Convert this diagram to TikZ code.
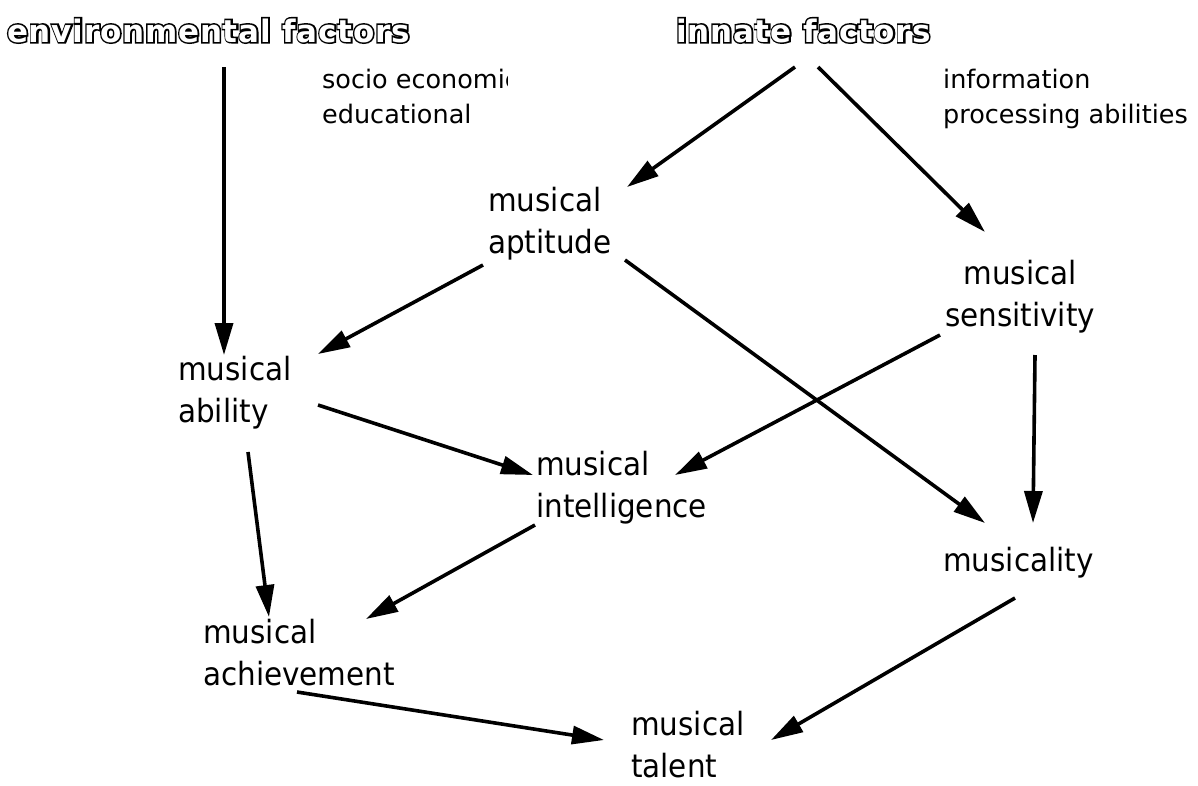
\documentclass[tikz,border=0pt]{standalone}
\usepackage{fontspec}
\setmainfont{DejaVu Sans}[FakeStretch=0.92]
\newfontfamily\smallfont{DejaVu Sans}
\newfontfamily\outerfont{DejaVu Sans Bold}[FakeBold=10,LetterSpace=2.5]
\newfontfamily\innerfont{DejaVu Sans Bold}[LetterSpace=2.5]
\usetikzlibrary{arrows.meta,calc}
\newcommand{\outlined}[1]{\leavevmode\rlap{\outerfont #1}{\innerfont\color{white}#1}}
\begin{document}
\begin{tikzpicture}[x=1pt,y=-1pt,
  lbl/.style={anchor=base west, inner sep=0pt, align=left, font=\fontsize{32}{42}\selectfont},
  lblc/.style={anchor=base, inner sep=0pt, align=center, font=\fontsize{32}{42}\selectfont},
  note/.style={anchor=base west, inner sep=0pt, align=left, font=\smallfont\fontsize{25.5}{35}\selectfont},
  title/.style={anchor=base west, inner sep=0pt, font=\fontsize{31}{31}\selectfont},
  arr/.style={line width=3.6pt, -{Triangle[length=32pt,width=18pt]}, shorten >=0pt}]
\useasboundingbox (0,0) rectangle (1198,785);
% titles
\node[title] (env) at (7,42) {\outlined{environmental factors}};
\node[title] (inn) at (676,42) {\outlined{innate factors}};
% notes (last-line baselines)
\begin{scope}
\clip (300,55) rectangle (507,135);
\node[note] (soc) at (322,123) {socio economic\\educational};
\end{scope}
\node[note] (inf) at (943,123) {information\\processing abilities};
% concept nodes (anchored at the baseline of the last line)
\node[lbl] (apt) at (488,253) {musical\\aptitude};
\node[lblc] (sen) at (1020,326) {musical\\sensitivity};
\node[lbl] (abl) at (178,422) {musical\\ability};
\node[lbl] (int) at (536,517) {musical\\intelligence};
\node[lbl] (mty) at (943,571) {musicality};
\node[lbl] (ach) at (203,685) {musical\\achievement};
\node[lbl] (tal) at (631,777) {musical\\talent};
% connectors
\draw[arr] ($(env.base west)+(217,25)$) -- ($(abl.base west)+(46,-67)$);
\draw[arr] ($(inn.base west)+(119,25)$) -- ($(apt.base west)+(139,-66)$);
\draw[arr] ($(inn.base west)+(142,25)$) -- ($(sen.base)+(-35,-94)$);
\draw[arr] ($(apt.base west)+(-5,12)$) -- ($(abl.base west)+(140,-68)$);
\draw[arr] ($(apt.base west)+(137,7)$) -- ($(mty.base west)+(42,-48)$);
\draw[arr] ($(sen.base)+(-80,9)$) -- ($(int.base west)+(139,-42)$);
\draw[arr] ($(sen.base)+(15,29)$) -- ($(mty.base west)+(90,-48)$);
\draw[arr] ($(abl.base west)+(140,-17)$) -- ($(int.base west)+(-3,-42)$);
\draw[arr] ($(abl.base west)+(70,30)$) -- ($(ach.base west)+(66,-68)$);
\draw[arr] ($(int.base west)+(-1,8)$) -- ($(ach.base west)+(163,-66)$);
\draw[arr] ($(ach.base west)+(94,7)$) -- ($(tal.base west)+(-27,-37)$);
\draw[arr] ($(mty.base west)+(72,27)$) -- ($(tal.base west)+(140,-37)$);
\end{tikzpicture}
\end{document}
